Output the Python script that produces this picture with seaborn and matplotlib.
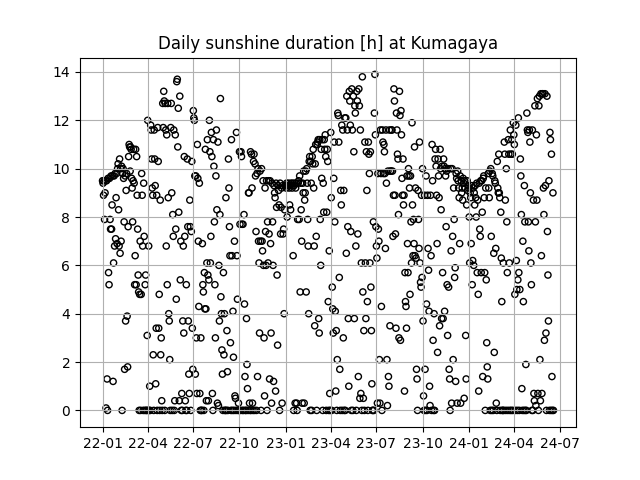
import calendar
import numpy as np
import pandas as pd
import matplotlib
matplotlib.use("Agg")
import matplotlib.pyplot as plt
import matplotlib.dates as mdates
import seaborn as sns

title = "Daily sunshine duration [h] at Kumagaya"
start_date = "2022-01-01"

m2022_01 = [9.5, 9.4, 8.9, 9.5, 7.9, 9.0, 9.5, 0.1, 9.5, 1.3, 0.0, 9.6, 5.7, 5.2, 9.6, 7.9, 7.5, 9.7, 7.5, 8.5, 9.7, 1.2, 6.1, 9.7, 6.8, 9.8, 7.1, 8.8, 9.8, 6.9, 10.0]
m2022_02 = [10.2, 8.3, 6.8, 10.4, 6.5, 10.0, 7.0, 10.1, 0.0, 9.8, 10.0, 9.6, 7.8, 1.7, 9.7, 3.7, 9.1, 9.8, 3.9, 1.8, 7.6, 10.5, 11.0, 10.9, 9.9, 10.9, 10.8, 9.6]
m2022_03 = [9.2, 7.8, 9.5, 10.8, 9.4, 5.2, 6.4, 10.8, 5.2, 10.5, 8.9, 7.5, 5.6, 4.9, 0.0, 4.8, 7.0, 0.0, 4.8, 9.8, 8.9, 6.8, 0.0, 9.4, 7.2, 0.0, 5.2, 5.6, 0.0, 0.0, 3.1]
m2022_04 = [12.0, 0.0, 6.8, 0.0, 1.0, 0.0, 11.8, 11.6, 10.4, 9.2, 8.9, 2.3, 0.0, 11.6, 10.4, 9.3, 1.1, 3.4, 8.9, 0.0, 11.7, 10.3, 3.4, 4.8, 0.0, 8.7, 2.3, 3.0, 0.4, 0.0]
m2022_05 = [12.7, 11.7, 13.2, 12.8, 0.0, 12.7, 11.6, 6.8, 11.4, 5.2, 12.7, 8.8, 4.0, 3.7, 2.1, 0.0, 11.7, 12.7, 9.0, 0.0, 8.1, 7.2, 11.6, 0.0, 0.4, 11.4, 7.5, 4.6, 13.6, 13.7, 10.9]
m2022_06 = [12.5, 8.2, 0.4, 13.0, 5.4, 7.0, 0.0, 0.7, 0.0, 3.7, 6.8, 3.2, 10.5, 7.2, 0.4, 0.0, 5.2, 0.0, 10.4, 7.6, 3.7, 1.5, 0.7, 8.7, 7.6, 0.0, 7.4, 10.3, 3.4, 1.7]
m2022_07 = [12.4, 12.1, 12.0, 9.7, 1.5, 9.7, 3.0, 0.7, 11.0, 9.6, 7.0, 4.3, 9.4, 0.7, 0.0, 3.0, 0.0, 0.0, 6.9, 5.2, 4.9, 0.0, 5.7, 4.2, 10.8, 4.2, 0.4, 6.1, 11.2, 5.6, 0.4]
m2022_08 = [5.4, 12.0, 10.7, 6.1, 7.2, 11.5, 10.5, 0.7, 0.0, 11.2, 10.1, 7.8, 5.2, 3.0, 9.7, 11.6, 8.3, 0.3, 11.1, 0.2, 6.0, 3.7, 8.1, 12.9, 4.7, 4.0, 2.5, 1.5, 0.0, 5.7, 2.3]
m2022_09 = [4.0, 0.0, 0.0, 8.8, 0.0, 3.3, 1.6, 0.0, 10.4, 9.2, 7.6, 6.4, 2.8, 0.0, 11.2, 6.4, 0.0, 4.1, 2.2, 0.0, 7.0, 0.6, 0.5, 0.0, 11.5, 6.4, 4.6, 0.0, 0.3, 0.0]
m2022_10 = [10.7, 7.7, 0.0, 10.7, 10.5, 7.7, 0.0, 7.7, 0.0, 8.1, 4.4, 1.4, 0.0, 0.0, 3.8, 1.9, 0.9, 0.0, 9.0, 9.0, 0.3, 0.0, 10.7, 0.0, 10.6, 9.2, 0.3, 0.0, 10.3, 10.6, 0.0]
m2022_11 = [10.2, 9.7, 7.4, 0.0, 9.8, 1.4, 10.0, 7.0, 6.1, 3.2, 9.9, 7.0, 0.0, 10.0, 7.0, 6.6, 9.5, 6.0, 3.0, 0.6, 9.2, 7.4, 6.0, 9.5, 0.0, 7.8, 6.1, 9.5, 7.3, 1.3]
m2022_12 = [9.5, 6.9, 3.2, 0.3, 9.4, 7.8, 6.0, 1.2, 9.3, 9.0, 8.8, 0.8, 9.4, 8.4, 5.6, 2.7, 9.3, 9.1, 8.5, 0.0, 9.4, 7.3, 8.4, 9.2, 0.3, 9.3, 7.3, 7.5, 4.0, 8.3, 9.3]
m2023_01 = [9.3, 9.2, 9.4, 8.0, 9.3, 9.3, 9.4, 9.2, 8.5, 9.3, 8.3, 9.4, 9.3, 9.2, 9.4, 6.4, 0.0, 9.3, 9.4, 0.3, 9.2, 9.4, 0.3, 0.0, 7.9, 9.4, 9.5, 7.9, 9.7, 4.9, 9.4]
m2023_02 = [8.3, 7.0, 0.3, 9.4, 9.0, 9.9, 0.3, 8.7, 9.0, 9.9, 4.9, 10.0, 9.4, 7.9, 6.8, 4.0, 10.3, 10.5, 0.0, 10.3, 9.4, 0.0, 10.5, 10.2, 10.8, 9.2, 6.8, 3.5]
m2023_03 = [10.2, 11.0, 7.2, 0.0, 11.0, 11.1, 11.2, 3.8, 3.2, 11.2, 7.9, 6.0, 10.8, 9.6, 11.2, 0.0, 9.4, 8.2, 11.2, 10.8, 11.4, 10.5, 0.0, 8.2, 10.8, 10.3, 4.5, 0.0, 6.6, 0.7, 0.0]
m2023_04 = [11.5, 8.8, 0.0, 5.1, 4.2, 3.2, 9.6, 11.1, 7.8, 4.1, 0.8, 3.3, 0.0, 2.1, 12.3, 12.2, 11.1, 5.5, 1.7, 0.0, 9.1, 8.5, 11.8, 0.0, 11.6, 3.0, 9.1, 0.0, 12.1, 0.0]
m2023_05 = [12.1, 6.5, 13.0, 11.6, 7.6, 3.8, 1.0, 13.2, 12.8, 11.8, 7.4, 0.0, 13.3, 11.6, 0.0, 13.0, 10.7, 3.8, 12.6, 12.3, 6.8, 0.0, 13.2, 12.8, 7.3, 1.4, 13.3, 12.6, 0.5, 11.6, 0.7]
m2023_06 = [6.1, 0.0, 13.8, 4.9, 0.5, 3.3, 0.0, 11.1, 6.1, 3.8, 10.7, 9.1, 4.5, 0.0, 11.1, 10.6, 9.8, 6.1, 10.7, 5.1, 3.3, 1.1, 0.0, 0.0, 7.8, 0.0, 12.3, 13.9, 11.4, 7.6]
m2023_07 = [6.8, 6.3, 0.3, 9.8, 7.5, 7.0, 2.1, 0.3, 11.6, 9.8, 4.3, 0.0, 11.6, 11.1, 9.8, 11.0, 10.7, 9.8, 6.7, 11.6, 9.4, 2.1, 0.2, 9.9, 1.4, 1.0, 11.6, 3.5, 9.9, 9.9, 11.6]
m2023_08 = [11.6, 9.9, 7.2, 8.9, 13.3, 12.8, 8.9, 7.3, 3.4, 12.3, 11.6, 10.6, 10.4, 8.1, 3.0, 13.2, 12.2, 2.9, 12.4, 11.4, 9.6, 8.9, 10.4, 8.5, 8.9, 0.8, 5.7, 4.5, 4.3, 3.4, 9.7]
m2023_09 = [6.9, 5.7, 10.0, 9.7, 9.2, 4.8, 9.7, 7.8, 6.1, 11.9, 8.5, 6.4, 7.9, 6.9, 10.9, 6.4, 9.2, 6.3, 1.7, 1.3, 0.0, 9.1, 7.9, 6.7, 11.1, 6.1, 5.3, 5.1, 8.9, 5.5]
m2023_10 = [10.0, 3.7, 0.6, 0.0, 8.9, 1.7, 0.0, 9.7, 4.4, 0.0, 8.9, 6.7, 5.8, 4.1, 1.0, 0.2, 8.9, 6.4, 0.0, 11.0, 9.5, 2.9, 0.0, 4.0, 0.0, 10.4, 10.8, 10.1, 8.9, 6.9, 2.4]
m2023_11 = [10.4, 9.7, 8.8, 3.5, 10.8, 10.0, 8.3, 3.8, 10.1, 5.7, 3.8, 10.4, 10.1, 4.1, 10.0, 9.7, 7.6, 9.9, 5.2, 3.1, 10.0, 5.1, 1.7, 1.3, 0.0, 10.0, 6.6, 0.3, 10.0, 7.2]
m2023_12 = [2.1, 9.2, 7.9, 5.5, 5.9, 1.2, 9.8, 9.6, 0.3, 9.9, 9.5, 9.2, 8.8, 6.9, 9.7, 0.3, 9.5, 9.0, 9.2, 8.7, 9.6, 9.4, 0.5, 9.5, 9.2, 3.1, 1.3, 8.5, 9.5, 9.1, 9.3]
m2024_01 = [9.2, 8.0, 6.1, 9.0, 8.8, 6.9, 9.3, 5.2, 6.2, 9.2, 6.0, 9.0, 8.5, 9.3, 8.8, 8.0, 9.4, 5.7, 8.7, 4.8, 0.8, 9.4, 7.5, 7.2, 9.5, 5.7, 9.5, 8.2, 1.4, 9.6, 9.7]
m2024_02 = [8.8, 5.7, 0.0, 9.2, 5.4, 2.8, 1.8, 1.3, 9.8, 9.2, 8.8, 9.9, 0.0, 10.0, 7.2, 0.0, 9.8, 9.7, 0.0, 6.5, 2.4, 9.5, 9.4, 6.7, 0.3, 0.0, 10.3, 9.2, 9.0]
m2024_03 = [10.6, 9.0, 8.8, 0.0, 8.2, 6.3, 4.5, 0.0, 0.0, 6.1, 0.0, 11.1, 10.6, 8.7, 0.0, 10.0, 7.8, 5.7, 0.0, 11.2, 10.6, 6.1, 0.0, 11.6, 10.6, 0.0, 11.2, 10.6, 0.0, 11.9, 11.4]
m2024_04 = [11.0, 4.8, 0.0, 11.8, 6.2, 5.0, 0.0, 5.4, 12.1, 5.7, 0.0, 5.0, 10.4, 9.7, 8.1, 0.9, 0.0, 7.0, 4.5, 0.0, 9.3, 7.8, 0.0, 1.9, 0.0, 12.3, 11.6, 11.5, 7.8, 6.6]
m2024_05 = [11.6, 11.1, 9.0, 6.1, 5.2, 0.0, 11.6, 0.0, 8.7, 0.7, 0.4, 12.6, 7.8, 0.2, 11.4, 8.7, 12.9, 0.7, 0.0, 12.6, 13.0, 2.1, 0.4, 13.1, 6.4, 0.7, 13.1, 13.1, 9.2, 8.1, 2.9]
m2024_06 = [13.1, 9.3, 3.2, 0.0, 13.0, 7.4, 5.6, 3.7, 9.5, 0.0, 11.5, 11.2, 0.0, 10.6, 1.4, 0.0, 9.0, 0.0]

months = [m2022_01, m2022_02, m2022_03, m2022_04, m2022_05, m2022_06,
          m2022_07, m2022_08, m2022_09, m2022_10, m2022_11, m2022_12,
          m2023_01, m2023_02, m2023_03, m2023_04, m2023_05, m2023_06,
          m2023_07, m2023_08, m2023_09, m2023_10, m2023_11, m2023_12,
          m2024_01, m2024_02, m2024_03, m2024_04, m2024_05, m2024_06]

# sanity: full months must match calendar length
ym = [(2022 + i // 12, i % 12 + 1) for i in range(len(months))]
for (y, m), vals in zip(ym[:-1], months[:-1]):
    assert len(vals) == calendar.monthrange(y, m)[1], (y, m, len(vals))

sunshine = [v for mm in months for v in mm]
dates = pd.date_range(start_date, periods=len(sunshine), freq="D")
df = pd.DataFrame({"date": dates, "sunshine": sunshine})

fig, ax = plt.subplots(figsize=(6.4, 4.8), dpi=100)
sns.scatterplot(data=df, x="date", y="sunshine", ax=ax, marker="o", s=20,
                facecolors="none", edgecolors="black", linewidths=1.0)
ax.set_title(title)
ax.set_xlabel("")
ax.set_ylabel("")
ax.xaxis.set_major_locator(mdates.MonthLocator(bymonth=[1, 4, 7, 10]))
ax.xaxis.set_major_formatter(mdates.DateFormatter("%y-%m"))
ax.grid(True)
fig.savefig("out.png", dpi=100)
